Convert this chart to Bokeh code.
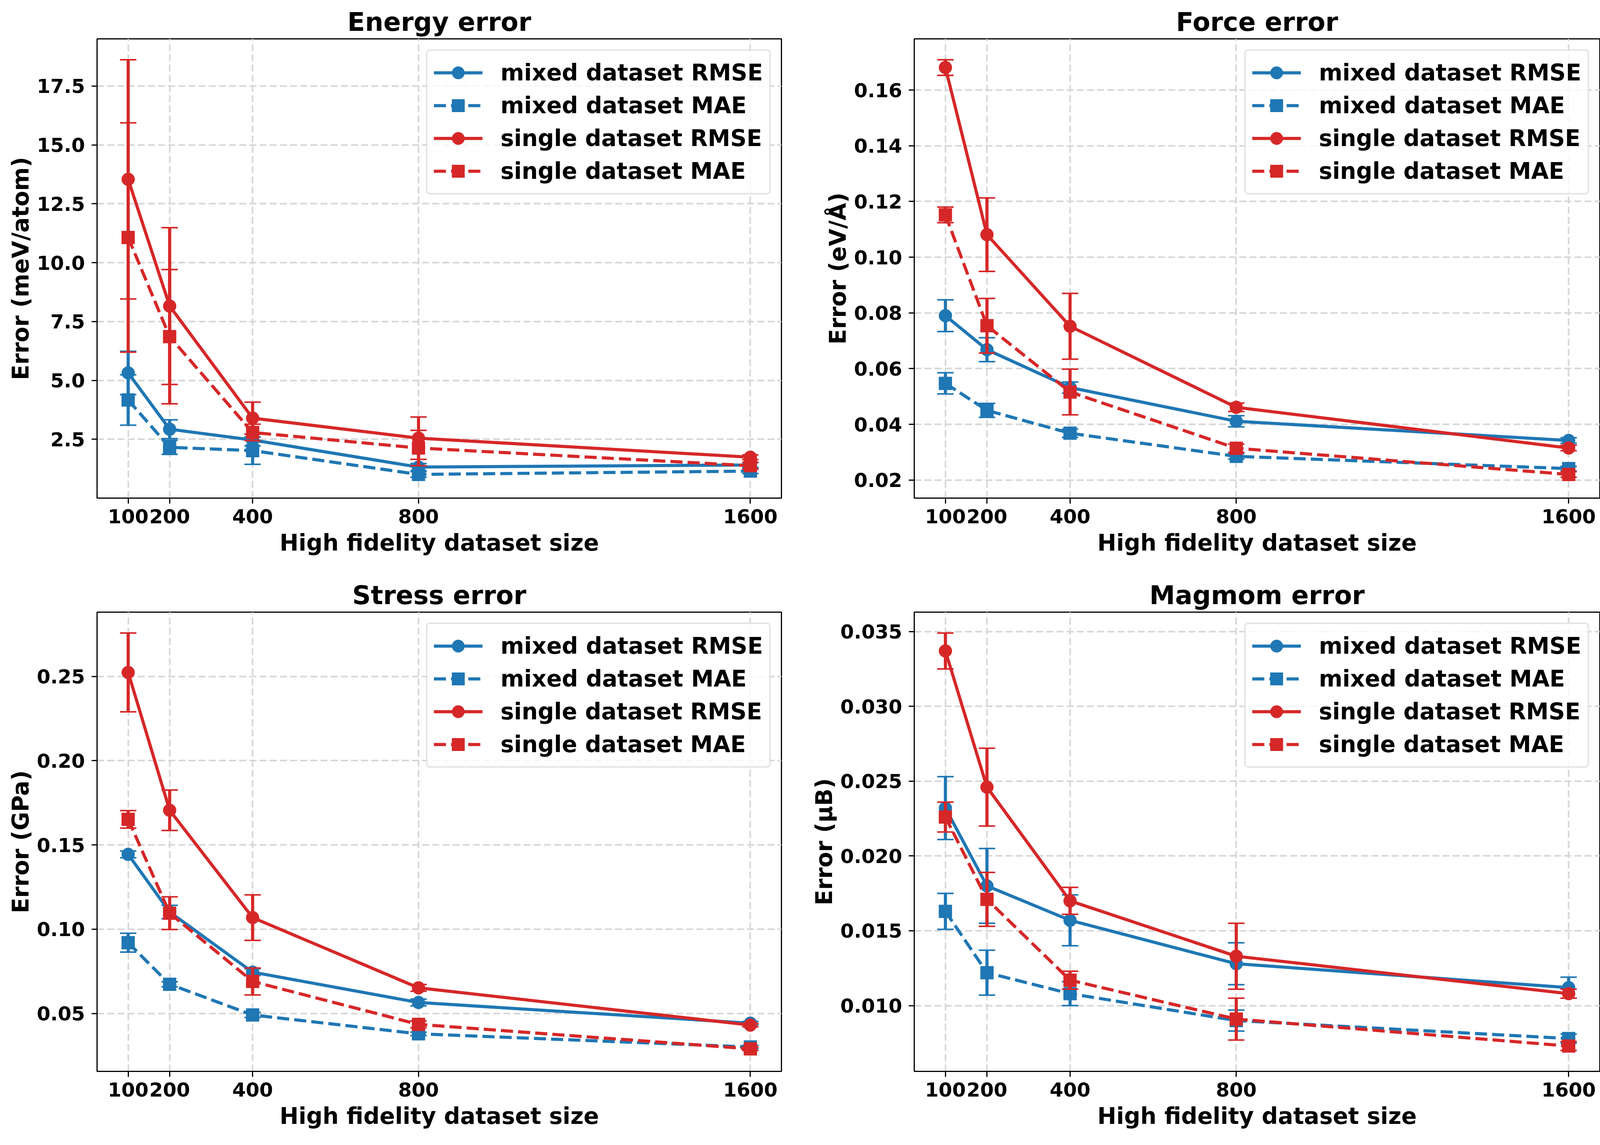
from bokeh.plotting import figure
from bokeh.layouts import gridplot
from bokeh.models import FixedTicker, Range1d, Legend, LegendItem, ColumnDataSource
from bokeh.embed import file_html
from bokeh.resources import INLINE

# ---------------- data ----------------
sizes = [100, 200, 400, 800, 1600]
x_tick_labels = ["100", "200", "400", "800", "1600"]
series_names = ["mixed dataset RMSE", "mixed dataset MAE", "single dataset RMSE", "single dataset MAE"]

energy_mixed_rmse = [5.32, 2.93, 2.47, 1.32, 1.41]
energy_mixed_rmse_err = [0.92, 0.40, 0.25, 0.15, 0.10]
energy_mixed_mae = [4.17, 2.16, 2.02, 1.01, 1.15]
energy_mixed_mae_err = [1.07, 0.30, 0.58, 0.12, 0.10]
energy_single_rmse = [13.54, 8.16, 3.40, 2.55, 1.74]
energy_single_rmse_err = [5.08, 3.33, 0.68, 0.90, 0.10]
energy_single_mae = [11.07, 6.86, 2.79, 2.13, 1.38]
energy_single_mae_err = [4.87, 2.85, 0.35, 0.75, 0.15]

force_mixed_rmse = [0.0790, 0.0668, 0.0532, 0.0411, 0.0342]
force_mixed_rmse_err = [0.0057, 0.0043, 0.0020, 0.0020, 0.0010]
force_mixed_mae = [0.0547, 0.0450, 0.0368, 0.0285, 0.0241]
force_mixed_mae_err = [0.0038, 0.0025, 0.0015, 0.0010, 0.0008]
force_single_rmse = [0.1681, 0.1081, 0.0752, 0.0461, 0.0315]
force_single_rmse_err = [0.0028, 0.0132, 0.0118, 0.0015, 0.0010]
force_single_mae = [0.1152, 0.0754, 0.0516, 0.0314, 0.0220]
force_single_mae_err = [0.0028, 0.0098, 0.0082, 0.0015, 0.0010]

stress_mixed_rmse = [0.1444, 0.1102, 0.0745, 0.0565, 0.0442]
stress_mixed_rmse_err = [0.0020, 0.0040, 0.0020, 0.0020, 0.0010]
stress_mixed_mae = [0.0920, 0.0673, 0.0491, 0.0379, 0.0301]
stress_mixed_mae_err = [0.0056, 0.0015, 0.0015, 0.0010, 0.0010]
stress_single_rmse = [0.2524, 0.1706, 0.1069, 0.0652, 0.0431]
stress_single_rmse_err = [0.0234, 0.0120, 0.0135, 0.0020, 0.0010]
stress_single_mae = [0.1652, 0.1095, 0.0690, 0.0435, 0.0290]
stress_single_mae_err = [0.0052, 0.0097, 0.0080, 0.0020, 0.0010]

magmom_mixed_rmse = [0.0232, 0.0180, 0.0157, 0.0128, 0.0112]
magmom_mixed_rmse_err = [0.0021, 0.0025, 0.0017, 0.0014, 0.0007]
magmom_mixed_mae = [0.0163, 0.0122, 0.0108, 0.0090, 0.0078]
magmom_mixed_mae_err = [0.0012, 0.0015, 0.0008, 0.0007, 0.0003]
magmom_single_rmse = [0.0337, 0.0246, 0.0170, 0.0133, 0.0108]
magmom_single_rmse_err = [0.0012, 0.0026, 0.0009, 0.0022, 0.0003]
magmom_single_mae = [0.0226, 0.0171, 0.0117, 0.0091, 0.0073]
magmom_single_mae_err = [0.0010, 0.0018, 0.0006, 0.0014, 0.0003]

energy_yticks = [2.5, 5.0, 7.5, 10.0, 12.5, 15.0, 17.5]
energy_ytick_labels = ["2.5", "5.0", "7.5", "10.0", "12.5", "15.0", "17.5"]
force_yticks = [0.02, 0.04, 0.06, 0.08, 0.10, 0.12, 0.14, 0.16]
force_ytick_labels = ["0.02", "0.04", "0.06", "0.08", "0.10", "0.12", "0.14", "0.16"]
stress_yticks = [0.05, 0.10, 0.15, 0.20, 0.25]
stress_ytick_labels = ["0.05", "0.10", "0.15", "0.20", "0.25"]
magmom_yticks = [0.010, 0.015, 0.020, 0.025, 0.030, 0.035]
magmom_ytick_labels = ["0.010", "0.015", "0.020", "0.025", "0.030", "0.035"]

# ---------------- style ----------------
FONT = "DejaVu Sans"
colors = ["#1f77b4", "#1f77b4", "#d62728", "#d62728"]
markers = ["circle", "square", "circle", "square"]
dashes = ["solid", "31 13", "solid", "31 13"]
FRAME_H = 1176


def pad_range(lows, highs):
    lo, hi = min(lows), max(highs)
    pad = 0.05 * (hi - lo)
    return lo - pad, hi + pad


def make_panel(title, ylabel, yticks, ylabels, series, frame_w, b_left, b_right, b_top, b_bottom):
    lows = [v - e for vals, errs in series for v, e in zip(vals, errs)]
    highs = [v + e for vals, errs in series for v, e in zip(vals, errs)]
    y0, y1 = pad_range(lows, highs)
    x0, x1 = pad_range(sizes, sizes)
    p = figure(frame_width=frame_w, frame_height=FRAME_H,
               x_range=Range1d(x0, x1), y_range=Range1d(y0, y1),
               output_backend="svg", toolbar_location=None,
               min_border_left=b_left, min_border_right=b_right,
               min_border_top=b_top, min_border_bottom=b_bottom,
               background_fill_color="white", border_fill_color="white")
    p.title.text = title
    p.title.text_font = FONT
    p.title.text_font_size = "66px"
    p.title.text_font_style = "bold"
    p.title.text_color = "black"
    p.title.align = "center"
    p.title.standoff = 10

    p.outline_line_color = "black"
    p.outline_line_width = 3
    p.outline_line_alpha = 1.0

    p.xaxis.ticker = FixedTicker(ticks=sizes)
    p.xaxis.major_label_overrides = {s: l for s, l in zip(sizes, x_tick_labels)}
    p.yaxis.ticker = FixedTicker(ticks=yticks)
    p.yaxis.major_label_overrides = {t: l for t, l in zip(yticks, ylabels)}

    for ax in (p.xaxis, p.yaxis):
        ax.axis_line_color = "black"
        ax.axis_line_width = 3
        ax.major_tick_line_color = "black"
        ax.major_tick_line_width = 3
        ax.major_tick_out = 14
        ax.major_tick_in = 0
        ax.minor_tick_line_color = None
        ax.major_label_text_font = FONT
        ax.major_label_text_font_size = "50px"
        ax.major_label_text_font_style = "bold"
        ax.major_label_text_color = "black"
        ax.axis_label_text_font = FONT
        ax.axis_label_text_font_size = "58px"
        ax.axis_label_text_font_style = "bold"
        ax.axis_label_text_color = "black"
    p.xaxis.major_label_standoff = 14
    p.yaxis.major_label_standoff = 17
    p.xaxis.axis_label = "High fidelity dataset size"
    p.xaxis.axis_label_standoff = 13
    p.yaxis.axis_label = ylabel
    p.yaxis.axis_label_standoff = 4

    for g in (p.xgrid, p.ygrid):
        g.grid_line_color = "#d6d6d6"
        g.grid_line_width = 4
        g.grid_line_dash = "18 8"

    items = []
    for name, (vals, errs), c, m, d in zip(series_names, series, colors, markers, dashes):
        src = ColumnDataSource(dict(
            x=sizes, y=vals,
            lo=[v - e for v, e in zip(vals, errs)],
            hi=[v + e for v, e in zip(vals, errs)],
        ))
        ln = p.line("x", "y", source=src, line_color=c, line_width=8, line_dash=d)
        mk = p.scatter("x", "y", source=src, marker=m, size=33,
                       fill_color=c, line_color=c, line_width=1)
        p.segment(x0="x", y0="lo", x1="x", y1="hi", source=src, line_color=c, line_width=8)
        p.scatter("x", "lo", source=src, marker="dash", size=42, line_color=c, line_width=4)
        p.scatter("x", "hi", source=src, marker="dash", size=42, line_color=c, line_width=4)
        items.append(LegendItem(label=name, renderers=[ln, mk]))

    leg = Legend(items=items, location="top_right")
    leg.margin = 27
    leg.padding = 16
    leg.spacing = 4
    leg.glyph_width = 125
    leg.glyph_height = 80
    leg.label_height = 80
    leg.label_standoff = 46
    leg.label_text_font = FONT
    leg.label_text_font_size = "58px"
    leg.label_text_font_style = "bold"
    leg.label_text_color = "black"
    leg.border_line_color = "#cccccc"
    leg.border_line_width = 4
    leg.background_fill_color = "white"
    leg.background_fill_alpha = 0.8
    try:
        leg.border_radius = 10
    except Exception:
        pass
    p.add_layout(leg)
    return p


p1 = make_panel("Energy error", "Error (meV/atom)", energy_yticks, energy_ytick_labels,
                [(energy_mixed_rmse, energy_mixed_rmse_err), (energy_mixed_mae, energy_mixed_mae_err),
                 (energy_single_rmse, energy_single_rmse_err), (energy_single_mae, energy_single_mae_err)],
                1752, 248, 58, 99, 183)
p2 = make_panel("Force error", "Error (eV/Å)", force_yticks, force_ytick_labels,
                [(force_mixed_rmse, force_mixed_rmse_err), (force_mixed_mae, force_mixed_mae_err),
                 (force_single_rmse, force_single_rmse_err), (force_single_mae, force_single_mae_err)],
                1755, 282, 13, 99, 183)
p3 = make_panel("Stress error", "Error (GPa)", stress_yticks, stress_ytick_labels,
                [(stress_mixed_rmse, stress_mixed_rmse_err), (stress_mixed_mae, stress_mixed_mae_err),
                 (stress_single_rmse, stress_single_rmse_err), (stress_single_mae, stress_single_mae_err)],
                1752, 248, 58, 109, 173)
p4 = make_panel("Magmom error", "Error (μB)", magmom_yticks, magmom_ytick_labels,
                [(magmom_mixed_rmse, magmom_mixed_rmse_err), (magmom_mixed_mae, magmom_mixed_mae_err),
                 (magmom_single_rmse, magmom_single_rmse_err), (magmom_single_mae, magmom_single_mae_err)],
                1755, 282, 13, 109, 173)

grid = gridplot([[p1, p2], [p3, p4]], toolbar_location=None)
open("out.html", "w").write(file_html(grid, INLINE))
